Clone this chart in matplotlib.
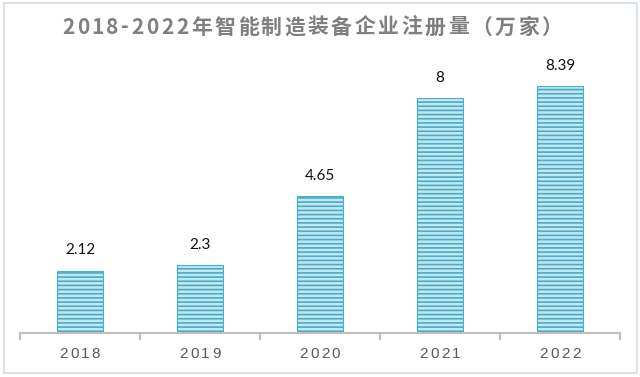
import numpy as np
import matplotlib
matplotlib.use("Agg")
import matplotlib.pyplot as plt
from matplotlib.patches import Rectangle

plt.rcParams['font.family'] = ['Noto Sans CJK SC', 'DejaVu Sans']
plt.rcParams['hatch.linewidth'] = 1.2
plt.rcParams['hatch.color'] = '#4aacc6'

years = ["2018", "2019", "2020", "2021", "2022"]
values = [2.12, 2.3, 4.65, 8, 8.39]
value_labels = ["2.12", "2.3", "4.65", "8", "8.39"]
title = "2018-2022年智能制造装备企业注册量（万家）"

W, H = 640, 377
fig = plt.figure(figsize=(W / 100, H / 100), dpi=100)
ax = fig.add_axes([20 / W, 1 - 333 / H, 600 / W, 0.78])
renderer = fig.canvas.get_renderer()


def spaced_text(s, x0, x1, y, **kw):
    # lay out characters one by one so the string spans x0..x1 (pixels)
    items = [fig.text(0, 0, ch, va='center', ha='left', **kw) for ch in s]
    widths = [t.get_window_extent(renderer).width for t in items]
    gap = (x1 - x0 - sum(widths)) / max(len(s) - 1, 1)
    xp = x0
    for t, w in zip(items, widths):
        t.set_position((xp / W, 1 - y / H))
        xp += w + gap


def spaced_center(s, xc, y, gap, **kw):
    items = [fig.text(0, 0, ch, va='center', ha='left', **kw) for ch in s]
    widths = [t.get_window_extent(renderer).width for t in items]
    total = sum(widths) + gap * (len(s) - 1)
    xp = xc - total / 2
    for t, w in zip(items, widths):
        t.set_position((xp / W, 1 - y / H))
        xp += w + gap


x = np.arange(len(years))
ax.bar(x, values, width=0.38, color='#c4e8f1', edgecolor='#4aacc6',
       linewidth=0.8, hatch='----')

for xi, v, lab in zip(x, values, value_labels):
    ax.text(xi, v + 0.45, lab, ha='center', va='bottom', fontsize=11,
            color='#111111', family=['Lato'])

ax.set_xlim(-0.5, 4.5)
ax.set_ylim(0, 10)
ax.set_yticks([])
ax.set_xticks([])
ax.set_xticks(np.arange(-0.5, 5, 1.0), minor=True)
ax.tick_params(axis='x', which='minor', length=5, width=1.5, color='#bfbfbf',
               direction='out', labelbottom=False)
for s in ['top', 'right', 'left']:
    ax.spines[s].set_visible(False)
ax.spines['bottom'].set_color('#bfbfbf')
ax.spines['bottom'].set_linewidth(1.5)

# category labels, letter-spaced like the source
for xi, yr in zip(x, years):
    xc = ax.transData.transform((xi, 0))[0]
    spaced_center(yr, xc, 354, 2.2, fontsize=11, color='#595959',
                  family=['Liberation Sans'])

spaced_text(title, 62, 562, 27, fontsize=15, fontweight='bold', color='#7f7f7f')

fig.patches.append(Rectangle((4 / W, 1 - 373 / H), 633 / W, 370 / H,
                             transform=fig.transFigure, fill=False,
                             edgecolor='#dbe2e8', linewidth=1.5))

fig.savefig("out.png", dpi=100)
